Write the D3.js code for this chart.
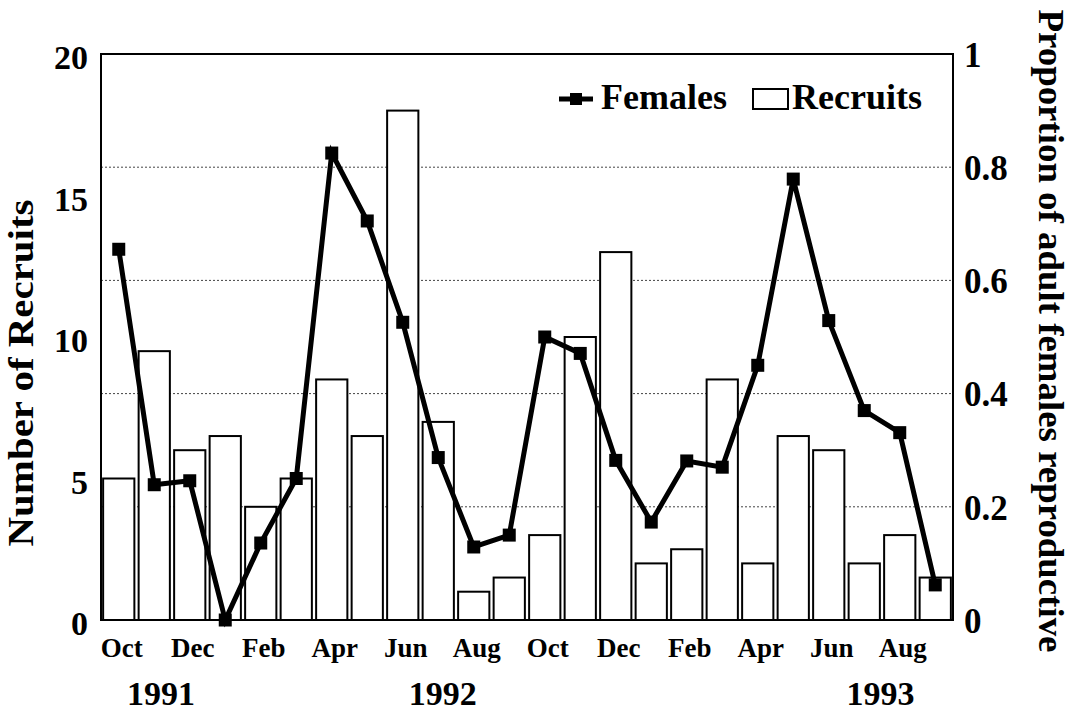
<!DOCTYPE html>
<html lang="en">
<head>
  <meta charset="UTF-8">
  <title>Recruits and reproductive females</title>
  <script src="https://d3js.org/d3.v7.min.js"></script>
  <style>
    body { margin: 0; background: #fff; }
    text { font-family: "Liberation Serif", "Times New Roman", serif; font-weight: bold; fill: #000; }
  </style>
</head>
<body>
<script>
// monthly samples, Oct 1991 - Sep 1993
var months = ["Oct","Nov","Dec","Jan","Feb","Mar","Apr","May","Jun","Jul","Aug","Sep",
              "Oct","Nov","Dec","Jan","Feb","Mar","Apr","May","Jun","Jul","Aug","Sep"];
var recruits = [5, 9.5, 6, 6.5, 4, 5, 8.5, 6.5, 18, 7, 1, 1.5,
                3, 10, 13, 2, 2.5, 8.5, 2, 6.5, 6, 2, 3, 1.5];
var females = [0.655, 0.239, 0.246, 0, 0.136, 0.25, 0.825, 0.705, 0.526, 0.287, 0.129, 0.15,
               0.5, 0.471, 0.282, 0.173, 0.281, 0.27, 0.45, 0.779, 0.529, 0.37, 0.331, 0.062];
var leftTicks = [0, 5, 10, 15, 20];
var rightTicks = [0, 0.2, 0.4, 0.6, 0.8, 1];
var years = ["1991", "1992", "1993"];
var yearPos = [1.63, 9.57, 21.9]; // in month units from the first bar

var W = 1073, H = 715;
// plot box (note: "top" is a reserved window global, so use other names)
var pL = 101, pR = 953, pT = 54, pB = 620;

var svg = d3.select("body").append("svg")
    .attr("width", W)
    .attr("height", H);

var idx = d3.range(months.length);
var x = d3.scaleBand().domain(idx).range([pL, pR]).paddingInner(0.12).paddingOuter(0.06);
var yL = d3.scaleLinear().domain([0, 20]).range([pB, pT]);
var yR = d3.scaleLinear().domain([0, 1]).range([pB, pT]);

// dotted gridlines (behind the bars)
svg.append("g").selectAll("line")
    .data(rightTicks.filter(function(d) { return d > 0 && d < 1; }))
    .enter().append("line")
    .attr("x1", pL).attr("x2", pR)
    .attr("y1", function(d) { return yR(d); })
    .attr("y2", function(d) { return yR(d); })
    .attr("stroke", "#444")
    .attr("stroke-width", 1)
    .attr("stroke-dasharray", "2,2");

// bars
svg.append("g").selectAll("rect")
    .data(recruits)
    .enter().append("rect")
    .attr("x", function(d, i) { return x(i); })
    .attr("y", function(d) { return yL(d); })
    .attr("width", x.bandwidth())
    .attr("height", function(d) { return yL(0) - yL(d); })
    .attr("fill", "#fff")
    .attr("stroke", "#000")
    .attr("stroke-width", 2);

// frame
svg.append("rect")
    .attr("x", pL).attr("y", pT)
    .attr("width", pR - pL).attr("height", pB - pT)
    .attr("fill", "none")
    .attr("stroke", "#000")
    .attr("stroke-width", 2);

// females line
var line = d3.line()
    .x(function(d, i) { return x(i) + x.bandwidth() / 2; })
    .y(function(d) { return yR(d); });

svg.append("path")
    .datum(females)
    .attr("d", line)
    .attr("fill", "none")
    .attr("stroke", "#000")
    .attr("stroke-width", 5)
    .attr("stroke-linejoin", "miter");

var ms = 13;
svg.append("g").selectAll("rect")
    .data(females)
    .enter().append("rect")
    .attr("x", function(d, i) { return x(i) + x.bandwidth() / 2 - ms / 2; })
    .attr("y", function(d) { return yR(d) - ms / 2; })
    .attr("width", ms).attr("height", ms)
    .attr("fill", "#000");

// left axis
var gL = svg.append("g")
    .attr("transform", "translate(" + pL + ",0)")
    .call(d3.axisLeft(yL).tickValues(leftTicks).tickSize(0).tickPadding(13));
gL.select(".domain").remove();
gL.selectAll("text")
    .style("font-size", "34px")
    .attr("dy", "0.32em")
    .attr("y", 4);

// right axis
var gR = svg.append("g")
    .attr("transform", "translate(" + pR + ",0)")
    .call(d3.axisRight(yR).tickValues(rightTicks).tickSize(0).tickPadding(11)
      .tickFormat(function(d) { return (d === 0 || d === 1) ? String(d) : d3.format(".1f")(d); }));
gR.select(".domain").remove();
gR.selectAll("text")
    .style("font-size", "35px")
    .attr("dy", "0.35em");

// month axis
var gB = svg.append("g")
    .attr("transform", "translate(0," + pB + ")")
    .call(d3.axisBottom(x)
      .tickValues(idx.filter(function(i) { return i % 2 === 0; }))
      .tickSize(0)
      .tickFormat(function(i) { return months[i]; }));
gB.select(".domain").remove();
gB.selectAll("text")
    .style("font-size", "27px")
    .attr("y", 37)
    .attr("dy", 0)
    .attr("x", 3);

// years
svg.append("g").selectAll("text")
    .data(years)
    .enter().append("text")
    .attr("x", function(d, i) { return x(0) + yearPos[i] * x.step(); })
    .attr("y", 705)
    .attr("text-anchor", "middle")
    .style("font-size", "34px")
    .text(function(d) { return d; });

// axis titles
svg.append("text")
    .attr("transform", "translate(33,373) rotate(-90)")
    .attr("text-anchor", "middle")
    .attr("textLength", 347)
    .attr("lengthAdjust", "spacingAndGlyphs")
    .style("font-size", "36px")
    .text("Number of Recruits");

svg.append("text")
    .attr("transform", "translate(1039,331) rotate(90)")
    .attr("text-anchor", "middle")
    .attr("textLength", 643)
    .attr("lengthAdjust", "spacingAndGlyphs")
    .style("font-size", "35px")
    .text("Proportion of adult females reproductive");

// legend
var legend = svg.append("g");
legend.append("line")
    .attr("x1", 559).attr("x2", 593)
    .attr("y1", 99).attr("y2", 99)
    .attr("stroke", "#000").attr("stroke-width", 5);
legend.append("rect")
    .attr("x", 576 - 6).attr("y", 99 - 6)
    .attr("width", 12).attr("height", 12)
    .attr("fill", "#000");
legend.append("text")
    .attr("x", 601).attr("y", 109)
    .style("font-size", "36px")
    .text("Females");
legend.append("rect")
    .attr("x", 753).attr("y", 89)
    .attr("width", 35).attr("height", 20)
    .attr("fill", "#fff")
    .attr("stroke", "#000").attr("stroke-width", 2);
legend.append("text")
    .attr("x", 792).attr("y", 109)
    .style("font-size", "36px")
    .text("Recruits");
</script>
</body>
</html>
